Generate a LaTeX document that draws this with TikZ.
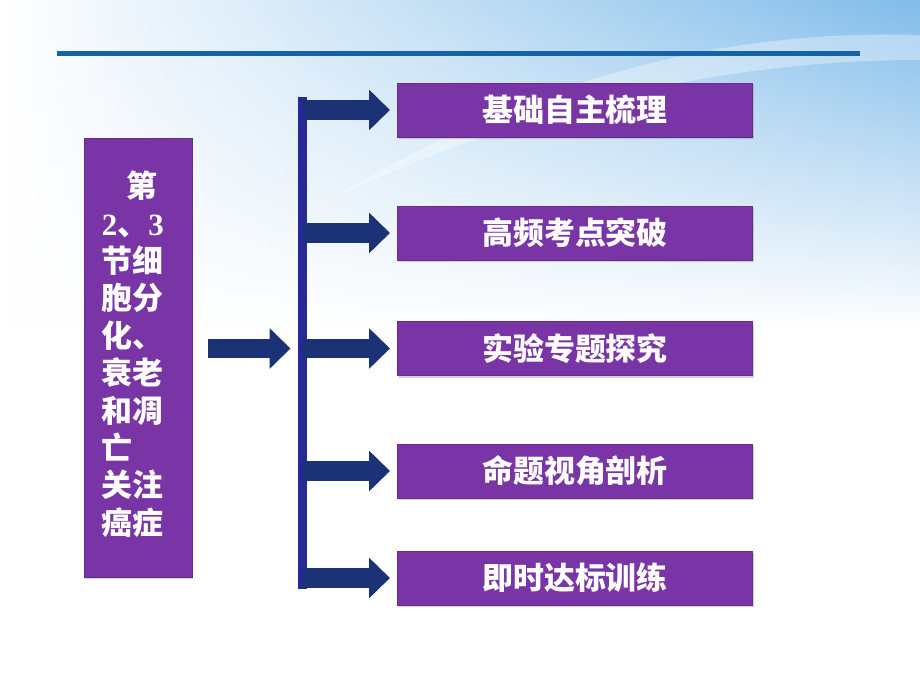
\documentclass[tikz,border=0pt]{standalone}
\usepackage{fontspec}
\setmainfont{Liberation Serif}
\newfontfamily\cjk{Noto Sans CJK SC}
\usetikzlibrary{
    arrows.meta,
    positioning,
    calc,
    shadows,
    fadings
}
\definecolor{topicpurple}{RGB}{121,52,166}
\definecolor{barblue}{RGB}{40,40,150}
\definecolor{arrownavy}{RGB}{27,50,118}
\definecolor{ruleblue}{RGB}{22,98,168}
\definecolor{skyblue}{RGB}{128,188,234}

\tikzfading[name=fade down, top color=transparent!0, bottom color=transparent!100]

\begin{document}
\begin{tikzpicture}[x=0.025cm, y=-0.025cm,
                topic/.style={draw=topicpurple!85!black, fill=topicpurple, minimum width=8.875cm, minimum height=1.35cm,
                    text=white, font=\cjk\bfseries\fontsize{22}{26}\selectfont,
                    drop shadow={opacity=0.35, shadow xshift=1pt, shadow yshift=-1.5pt}},
                fatarrow/.style={draw=arrownavy, line width=0.48cm, -{Triangle[length=0.52cm, width=0.98cm]}}
            ]
                % Background
                \fill[white] (0,0) rectangle (920,690);
                \shade[left color=white, right color=skyblue, path fading=fade down] (0,0) rectangle (920,330);
                \fill[white, opacity=0.35] (330,200) .. controls (560,60) and (760,30) .. (920,35)
                    -- (920,60) .. controls (760,60) and (560,90) .. cycle;

                % Title rule
                \draw[ruleblue, line width=0.11cm] (57,53.5) -- (860,53.5);

                % Chapter box
                \node[draw=topicpurple!85!black, fill=topicpurple, minimum width=2.7cm, minimum height=10.975cm,
                    drop shadow={opacity=0.35, shadow xshift=1pt, shadow yshift=-1.5pt}] (chap) at (138,357.5) {};
                \node[text=white, font=\cjk\bfseries\fontsize{22}{26.6}\selectfont, align=left, anchor=north west]
                    (chaptext) at (97,166) {\hspace{0.8em}第\\{\rmfamily 2}、{\rmfamily 3}\\节细\\胞分\\化、\\衰老\\和凋\\亡\\关注\\癌症};

                % Topics
                \node[topic] (b1) at (575,110) {基础自主梳理};
                \node[topic] (b2) at (575,233) {高频考点突破};
                \node[topic] (b3) at (575,348.5) {实验专题探究};
                \node[topic] (b4) at (575,471) {命题视角剖析};
                \node[topic] (b5) at (575,578) {即时达标训练};

                % Bracket bar
                \node[fill=barblue, inner sep=0pt, minimum width=0.225cm, minimum height=12.3cm] (bar) at (302.5,343) {};

                \draw[fatarrow, shorten <=0.38cm, shorten >=0.18cm] (chap.east |- b3) -- (bar.west |- b3);
                \draw[fatarrow, shorten >=0.18cm] (bar.center |- b1) -- (b1.west);
                \draw[fatarrow, shorten >=0.18cm] (bar.center |- b2) -- (b2.west);
                \draw[fatarrow, shorten >=0.18cm] (bar.center |- b3) -- (b3.west);
                \draw[fatarrow, shorten >=0.18cm] (bar.center |- b4) -- (b4.west);
                \draw[fatarrow, shorten >=0.18cm] (bar.center |- b5) -- (b5.west);
            \end{tikzpicture}
\end{document}
